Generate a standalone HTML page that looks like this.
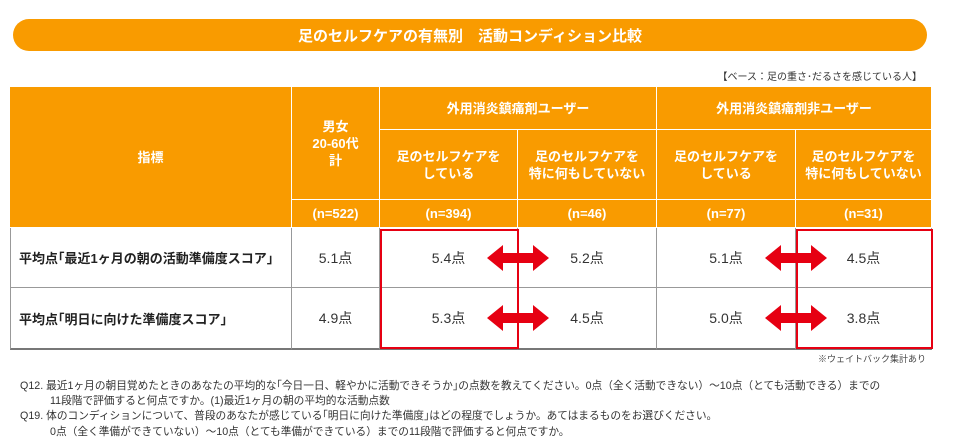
<!DOCTYPE html>
<html><head><meta charset="utf-8"><style>
body{margin:0;width:980px;height:448px;background:#fff;position:relative;overflow:hidden;font-family:"Liberation Sans","Noto Sans CJK JP",sans-serif;}
.a{position:absolute;box-sizing:border-box;}
.h{background:#f99b00;color:#fff;font-weight:bold;font-size:13px;display:flex;align-items:center;justify-content:center;text-align:center;line-height:17px;border-right:1px solid #fff;border-bottom:1px solid #fff;}
.d{display:flex;align-items:center;justify-content:center;font-size:14px;color:#333;border-right:1px solid #999;border-bottom:1px solid #999;}
.q{position:absolute;font-size:10.7px;color:#333;white-space:nowrap;}
</style></head><body>
<div class="a" style="left:13px;top:19px;width:914px;height:32px;background:#f99b00;border-radius:16px;color:#fff;font-weight:bold;font-size:15px;display:flex;align-items:center;justify-content:center;">足のセルフケアの有無別　活動コンディション比較</div>
<div class="a" style="right:58px;top:68px;font-size:10px;color:#333;">【ベース：足の重さ･だるさを感じている人】</div>

<div class="a h" style="left:10px;top:87px;width:282px;height:141px;">指標</div>
<div class="a h" style="left:292px;top:87px;width:88px;height:113px;">男女<br>20-60代<br>計</div>
<div class="a h" style="left:380px;top:87px;width:277px;height:43px;">外用消炎鎮痛剤ユーザー</div>
<div class="a h" style="left:657px;top:87px;width:275px;height:43px;">外用消炎鎮痛剤非ユーザー</div>
<div class="a h" style="left:380px;top:130px;width:138px;height:70px;">足のセルフケアを<br>している</div>
<div class="a h" style="left:518px;top:130px;width:139px;height:70px;">足のセルフケアを<br>特に何もしていない</div>
<div class="a h" style="left:657px;top:130px;width:139px;height:70px;">足のセルフケアを<br>している</div>
<div class="a h" style="left:796px;top:130px;width:136px;height:70px;">足のセルフケアを<br>特に何もしていない</div>
<div class="a h" style="left:292px;top:200px;width:88px;height:28px;">(n=522)</div>
<div class="a h" style="left:380px;top:200px;width:138px;height:28px;">(n=394)</div>
<div class="a h" style="left:518px;top:200px;width:139px;height:28px;">(n=46)</div>
<div class="a h" style="left:657px;top:200px;width:139px;height:28px;">(n=77)</div>
<div class="a h" style="left:796px;top:200px;width:136px;height:28px;">(n=31)</div>

<div class="a d" style="left:10px;top:228px;width:282px;height:60px;border-left:1px solid #999;font-weight:bold;font-size:13px;justify-content:flex-start;padding-left:8px;color:#222;">平均点｢最近1ヶ月の朝の活動準備度スコア｣</div>
<div class="a d" style="left:292px;top:228px;width:88px;height:60px;">5.1点</div>
<div class="a d" style="left:380px;top:228px;width:138px;height:60px;">5.4点</div>
<div class="a d" style="left:518px;top:228px;width:139px;height:60px;">5.2点</div>
<div class="a d" style="left:657px;top:228px;width:139px;height:60px;">5.1点</div>
<div class="a d" style="left:796px;top:228px;width:136px;height:60px;">4.5点</div>
<div class="a d" style="left:10px;top:288px;width:282px;height:62px;border-left:1px solid #999;border-bottom:2px solid #777;font-weight:bold;font-size:13px;justify-content:flex-start;padding-left:8px;color:#222;">平均点｢明日に向けた準備度スコア｣</div>
<div class="a d" style="left:292px;top:288px;width:88px;height:62px;border-bottom:2px solid #777;">4.9点</div>
<div class="a d" style="left:380px;top:288px;width:138px;height:62px;border-bottom:2px solid #777;">5.3点</div>
<div class="a d" style="left:518px;top:288px;width:139px;height:62px;border-bottom:2px solid #777;">4.5点</div>
<div class="a d" style="left:657px;top:288px;width:139px;height:62px;border-bottom:2px solid #777;">5.0点</div>
<div class="a d" style="left:796px;top:288px;width:136px;height:62px;border-bottom:2px solid #777;">3.8点</div>

<div class="a" style="left:380px;top:229px;width:139px;height:120px;border:2px solid #e60012;"></div>
<div class="a" style="left:796px;top:229px;width:137px;height:120px;border:2px solid #e60012;"></div>

<svg class="a" style="left:0;top:0" width="980" height="448">
<defs><g id="arr"><polygon points="-31,0 -15,-13 -15,-5 15,-5 15,-13 31,0 15,13 15,5 -15,5 -15,13" fill="#e60012"/></g></defs>
<use href="#arr" x="518" y="258"/><use href="#arr" x="518" y="318"/>
<use href="#arr" x="796" y="258"/><use href="#arr" x="796" y="318"/>
</svg>

<div class="a" style="right:54px;top:352px;font-size:9px;color:#444;">※ウェイトバック集計あり</div>
<div class="q" style="left:20px;top:378px;">Q12. 最近1ヶ月の朝目覚めたときのあなたの平均的な｢今日一日、軽やかに活動できそうか｣の点数を教えてください。0点（全く活動できない）～10点（とても活動できる）までの</div>
<div class="q" style="left:50px;top:393px;">11段階で評価すると何点ですか。(1)最近1ヶ月の朝の平均的な活動点数</div>
<div class="q" style="left:20px;top:408px;">Q19. 体のコンディションについて、普段のあなたが感じている｢明日に向けた準備度｣はどの程度でしょうか。あてはまるものをお選びください。</div>
<div class="q" style="left:50px;top:424px;">0点（全く準備ができていない）～10点（とても準備ができている）までの11段階で評価すると何点ですか。</div>
</body></html>
